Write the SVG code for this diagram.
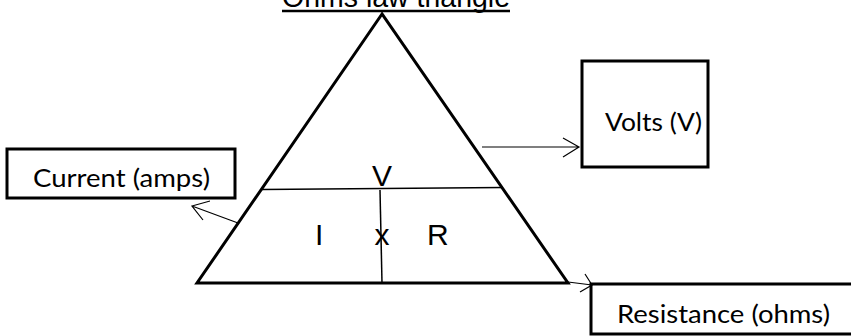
<svg xmlns="http://www.w3.org/2000/svg" width="851" height="336" viewBox="0 0 851 336">
<defs>
<style>
.box{fill:#fff;stroke:#000;stroke-width:3}
.lbl{font-family:Lato,"Open Sans","Liberation Sans",sans-serif;font-size:25px;fill:#000}
.tri{font-family:"Liberation Sans",Arial,sans-serif;font-size:30px;fill:#000}
.conn{fill:none;stroke:#000;stroke-width:1.2}
.div{fill:none;stroke:#000;stroke-width:1.5}
</style>
</defs>
<rect width="851" height="336" fill="#fff"/>
<g id="title">
<text x="282" y="7" class="tri" font-size="28" textLength="228" lengthAdjust="spacingAndGlyphs">Ohms law triangle</text>
<line x1="282" y1="11" x2="510" y2="11" stroke="#000" stroke-width="2.5"/>
</g>
<g id="triangle">
<polygon points="382,14 197,283 568,283" fill="none" stroke="#000" stroke-width="3" stroke-linejoin="miter"/>
<line class="div" x1="262" y1="189.5" x2="503" y2="187.5"/>
<line class="div" x1="380" y1="190" x2="382" y2="283"/>
<text x="382" y="186" class="tri" text-anchor="middle">V</text>
<text x="315" y="245" class="tri">I</text>
<text x="382" y="245" class="tri" text-anchor="middle">x</text>
<text x="427" y="245" class="tri">R</text>
</g>
<g id="volts">
<rect class="box" x="582" y="61" width="126" height="106"/>
<text x="605" y="131" class="lbl" textLength="97" lengthAdjust="spacingAndGlyphs">Volts (V)</text>
</g>
<g id="current">
<rect class="box" x="7" y="149" width="228" height="49"/>
<text x="33" y="187" class="lbl" textLength="177" lengthAdjust="spacingAndGlyphs">Current (amps)</text>
</g>
<g id="resistance">
<rect class="box" x="591" y="284" width="265" height="50"/>
<text x="617" y="323" class="lbl" textLength="213" lengthAdjust="spacingAndGlyphs">Resistance (ohms)</text>
</g>
<g id="connectors">
<path class="conn" d="M482,147 H579 M563,138 L579,147 L563,157"/>
<path class="conn" d="M238,223 L192,206 M210,201 L192,206 L203,220"/>
<path class="conn" d="M568,282 L592,285 M585,274 L592,285 L580,292"/>
</g>
</svg>
